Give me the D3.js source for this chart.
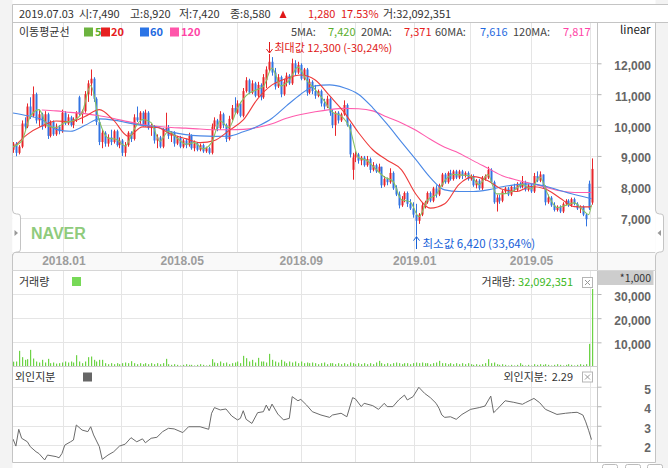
<!DOCTYPE html>
<html><head><meta charset="utf-8">
<script src="https://cdn.jsdelivr.net/npm/d3@7"></script>
<style>
html,body{margin:0;padding:0;background:#fff;}
svg{display:block;}
text{font-family:"Noto Sans CJK KR","Noto Sans",sans-serif;}
.ax{font-family:"Liberation Sans",Arial,sans-serif !important;font-weight:bold;font-size:12px !important;fill:#666 !important;}
.dx{font-family:"Liberation Sans",Arial,sans-serif !important;font-weight:bold;font-size:12px !important;fill:#9d9d9d !important;}
</style></head><body>
<svg id="c" width="668" height="468"></svg>
<script>
// ---------- DATA ----------
const lastDate = "2019.07.03";
// [open, high, low, close] — one candle per ~2 trading days
const candles = [
[9200,9450,9100,9400],[9400,9450,8990,9100],[9100,9350,9050,9300],[9300,10150,9250,10050],[10050,10250,9850,9950],
[9950,10700,9900,10600],[10600,10900,10200,10300],[10300,11250,10250,11000],[11000,11050,10050,10150],[10150,10500,9950,10350],
[10350,10400,9850,9950],[9950,10450,9900,10350],[10350,10400,9550,9650],[9650,10150,9600,10100],[10100,10150,9650,9700],
[9700,10050,9650,9950],[9950,10000,9700,9800],[9800,10500,9750,10400],[10400,10450,10000,10050],[10050,10350,10000,10250],
[10250,10300,9950,10000],[10000,10250,9900,10200],[10200,10450,10100,10400],[10900,10950,10300,10350],[10350,10500,10050,10450],
[10450,11100,10400,11000],[11000,11450,10750,11350],[11350,11800,10950,11500],[11500,11550,10750,10850],[10850,10900,10000,10100],
[10100,10200,9350,9450],[9450,9850,9250,9750],[9750,9800,9300,9400],[9400,9700,9300,9600],[9600,9850,9350,9450],
[9450,9850,9400,9800],[9800,9850,9300,9350],[9350,9600,9250,9500],[9500,9550,9000,9100],[9100,9450,8980,9350],
[9350,9800,9300,9750],[9750,9800,9450,9550],[9550,10350,9500,10250],[10250,10600,10100,10150],[10150,10450,10000,10400],
[10400,10450,9950,10000],[10000,10500,9950,10400],[10400,10450,9850,9900],[9900,10050,9650,9950],[9950,10000,9400,9500],
[9500,9700,9250,9600],[9600,9650,9250,9300],[9300,9900,9250,9850],[9850,10400,9800,9900],[9900,10000,9550,9650],
[9650,9800,9450,9750],[9750,9800,9300,9400],[9400,9650,9350,9600],[9600,9650,9250,9300],[9300,9550,9250,9500],
[9500,9550,9250,9350],[9350,9750,9300,9650],[9650,9700,9200,9250],[9250,9500,9150,9400],[9400,9450,9150,9200],
[9200,9400,9150,9350],[9350,9400,9100,9150],[9150,9300,9100,9250],[9250,9300,9050,9100],[9100,10050,9050,9950],
[9950,10250,9850,10150],[10150,10200,9800,9900],[9900,10450,9850,10350],[10350,10400,9900,10000],[10000,10050,9450,9550],
[9550,10300,9500,10200],[10200,10650,10150,10550],[10550,10900,10350,10400],[10400,10800,10350,10700],[10700,10750,10250,10300],
[10300,11200,10250,11100],[11100,11550,11050,11450],[11450,11500,11000,11050],[11050,11450,11000,11350],[11350,11400,10900,10950],
[10950,11400,10900,11300],[11300,11350,10800,10900],[10900,11650,10850,11550],[11450,11900,11200,11800],[11800,12300,11750,12050],
[12050,12200,11600,11700],[11700,11850,11150,11250],[11250,11650,11200,11550],[11550,11600,10900,11000],[11000,11500,10950,11400],
[11400,11700,11250,11600],[11600,11650,11300,11350],[11350,12150,11300,12000],[12000,12100,11600,11700],[11700,12050,11650,11950],
[11950,12000,11450,11500],[11500,11850,11450,11800],[11800,11850,10950,11050],[11050,11500,11000,11400],[11400,11450,11000,11100],
[11100,11300,10850,10950],[10950,11150,10900,11100],[11100,11150,10600,10700],[10700,10850,10500,10600],[10600,10950,10550,10850],
[10850,10900,10300,10400],[10400,10500,9900,10000],[10000,10450,9650,10400],[10400,10450,10050,10150],[10150,10400,10100,10350],
[10350,10800,10300,10650],[10650,10700,9950,10000],[10000,10050,8950,9050],[8550,9100,8230,8950],[8950,9150,8800,9050],
[9050,9100,8750,8850],[8850,9000,8700,8950],[8950,9000,8650,8700],[8700,9000,8650,8900],[8900,8950,8450,8550],
[8550,8800,8500,8700],[8700,8750,8450,8500],[8500,8750,8450,8650],[8650,8650,7960,8050],[8050,8350,8000,8250],
[8250,8300,8050,8150],[8150,8600,8100,8450],[8450,8500,7900,7950],[7950,8050,7700,7750],[7750,7850,7300,7400],
[7400,7700,7350,7600],[7600,7850,7500,7800],[7800,7850,7350,7450],[7450,7600,7250,7300],[7300,7500,7000,7100],
[7100,7450,6420,6900],[6900,7150,6800,7100],[7100,7500,7050,7400],[7400,7550,7300,7500],[7500,7850,7450,7800],
[7800,7850,7500,7550],[7550,8000,7500,7950],[7950,8050,7650,7750],[7750,8100,7700,8050],[8050,8450,8000,8400],
[8400,8450,8100,8150],[8150,8500,8100,8450],[8450,8550,8200,8250],[8250,8550,8200,8500],[8500,8550,8250,8300],
[8300,8550,8250,8500],[8500,8550,8250,8350],[8350,8500,8300,8450],[8450,8500,8200,8250],[8250,8400,8200,8350],
[8350,8400,8000,8050],[8050,8250,7950,8200],[8200,8250,7900,7950],[7950,8350,7900,8300],[8250,8400,8200,8350],
[8300,8650,8250,8550],[8550,8600,8100,8150],[8150,8200,7450,7500],[7500,7750,7200,7650],[7650,7750,7450,7550],
[7550,7900,7500,7850],[7850,8000,7800,7950],[7950,8000,7700,7750],[7750,8050,7700,8000],[8000,8100,7850,7900],
[7900,8150,7850,8100],[8100,8150,7950,8000],[8000,8350,7950,8150],[8150,8200,7850,7900],[7900,8100,7850,8050],
[8050,8100,7800,7850],[7850,8450,7800,8350],[8350,8500,8150,8200],[8200,8500,8150,8400],[8400,8400,7950,8000],
[8000,8050,7400,7500],[7500,7750,7450,7650],[7650,7700,7350,7400],[7400,7500,7200,7250],[7250,7400,7200,7350],
[7350,7400,7150,7200],[7200,7500,7150,7450],[7450,7600,7400,7550],[7550,7600,7350,7400],[7400,7650,7350,7600],
[7600,7650,7400,7450],[7450,7500,7250,7300],[7300,7400,7150,7350],[7350,7400,7050,7100],[7100,7150,6720,6950],
[8100,8200,7250,7300],[7490,8920,7420,8580]
];
// volume per candle, in thousands of shares (*1,000)
const volumes = [
2000,2070,6480,3860,2760,3030,6890,3300,2070,1650,2760,1650,3170,1380,1650,1200,1380,1650,2070,1650,
2070,1650,4680,2070,1380,2070,3860,4130,2760,2070,2760,2760,1380,960,1380,960,1380,960,1380,1650,
1380,2200,1380,960,1380,960,1380,960,1380,960,1380,960,1380,3170,960,690,960,690,410,690,
960,690,690,410,690,960,690,410,690,3030,1650,1380,2070,1380,1650,960,1380,1650,2070,1380,
4410,3440,2070,2760,1650,3580,2070,2070,1650,5240,2760,2070,1650,2760,2070,1380,2070,1650,2070,1380,
2070,1380,1650,1380,1650,1380,960,1380,1650,960,1380,1380,960,1380,960,1380,960,1650,1380,960,
1380,960,1380,960,1380,960,1650,2340,1380,960,1380,960,1380,1650,1380,960,1380,1380,960,1380,
1650,1380,1650,1380,1380,960,1380,1650,2340,1380,1380,960,1380,960,1380,960,1380,960,1380,960,
690,960,690,960,1380,3030,1380,1650,960,690,960,690,410,690,410,690,1380,690,410,690,
410,960,690,960,690,960,690,410,690,960,690,410,690,960,690,410,690,960,690,960,
9370,32092
];
const lastVolumeShares = 32092351;
// moving averages: [candle index, value]
const ma5 = [[0,9300],[3,9480],[6,10280],[9,10500],[12,9980],[15,9920],[18,10080],[21,10150],[24,10400],[27,11280],
[30,10130],[33,9580],[36,9530],[39,9320],[42,9850],[45,10180],[48,10080],[51,9470],[54,9800],[57,9580],
[60,9380],[63,9430],[66,9230],[69,9430],[72,10130],[75,9920],[78,10550],[81,10950],[84,11120],[87,11250],
[90,11850],[93,11270],[96,11450],[99,11880],[102,11450],[105,11150],[108,10800],[111,10420],[114,10300],[117,9900],
[120,8950],[123,8850],[126,8580],[129,8320],[132,8180],[135,7580],[138,7520],[141,7030],[144,7570],[147,7750],
[150,8200],[153,8400],[156,8380],[159,8350],[162,8070],[165,8400],[168,7770],[171,7780],[174,7880],[177,8080],
[180,7930],[183,8320],[186,7720],[189,7330],[192,7400],[195,7480],[198,7250],[200,7100],[201,7420]];
const maIdx = [0,5,10,15,20,25,30,35,40,45,50,55,60,65,70,75,80,85,90,95,100,105,110,115,120,125,130,135,140,145,150,155,160,165,170,175,180,185,190,195,200,201];
const ma20 = [9260,9700,9970,10130,10110,10280,10500,10150,9640,9940,9920,9700,9560,9430,9500,9820,10165,10850,11300,11510,11620,11460,10950,10420,9760,9200,8860,8550,7760,7310,7450,8080,8330,8200,7920,7850,8010,7930,7640,7360,7350,7371];
const ma60 = [10390,10300,10180,9860,9800,9990,10200,10160,10070,9990,9940,9780,9690,9650,9635,9640,9780,9960,10220,10620,11000,11270,11300,11210,11000,10560,10030,9450,8880,8300,7900,7850,7850,7900,8000,8070,8095,8020,7880,7750,7640,7616];
const ma120 = [null,null,10490,10460,10410,10370,10300,10210,10110,10020,9960,9920,9900,9870,9850,9850,9860,9920,10040,10220,10340,10430,10500,10540,10530,10460,10260,10070,9830,9540,9280,9090,8840,8600,8360,8220,8110,7990,7870,7817,7817,7817];
const maNames = ["5","20","60","120"];
// foreign ownership (%): [candle index, value]
const foreign = [[0,2.32],[1,1.96],[2,2.82],[3,2.36],[5,2.18],[6,1.93],[8,1.67],[9,1.58],[11,1.25],[12,1.5],[15,1.42],[16,1.36],[17,1.58],[18,2.01],[20,2.18],[21,2.27],[22,3.04],[24,2.78],[26,2.70],[27,2.95],[28,2.53],[30,1.93],[31,1.28],[33,1.5],[35,1.67],[37,1.96],[39,2.06],[41,2.39],[43,2.18],[45,2.33],[46,2.13],[48,2.36],[50,2.41],[52,2.70],[54,2.87],[56,2.84],[59,2.65],[61,2.95],[65,2.95],[68,2.82],[69,3.64],[70,3.93],[72,3.81],[74,3.86],[76,3.50],[78,3.30],[79,3.38],[80,3.77],[81,3.33],[83,3.12],[85,3.67],[87,3.72],[88,4.06],[89,3.77],[90,4.11],[92,3.6],[94,3.30],[96,3.38],[97,4.49],[99,4.28],[100,4.35],[102,4.06],[104,3.72],[107,3.55],[110,3.43],[111,3.55],[114,3.64],[116,3.46],[118,4.44],[119,4.37],[121,3.98],[122,4.15],[125,4.03],[127,3.84],[129,4.15],[130,3.98],[132,3.98],[134,4.32],[136,4.57],[137,4.32],[139,4.49],[141,4.97],[143,4.66],[145,4.44],[147,4.15],[148,3.90],[149,3.55],[150,3.43],[152,3.46],[154,3.33],[156,3.58],[159,3.84],[162,3.93],[164,4.01],[166,4.52],[167,3.67],[168,3.81],[171,4.28],[174,4.2],[177,4.1],[178,4.18],[181,4.4],[183,4.18],[185,3.84],[189,3.58],[192,3.64],[194,3.67],[196,3.69],[198,3.55],[199,3.2],[200,2.77],[201,2.29]];
const priceTicks = [7000,8000,9000,10000,11000,12000];
const volTicks = [10000,20000,30000];
const foreignTicks = [2,3,4,5];
const monthLabels = ["2018.01","2018.03","2018.05","2018.07","2018.09","2018.11","2019.01","2019.03","2019.05","2019.07"];
const monthIndex = [17.5,37.4,58.6,77.9,100,118.8,139.4,158.8,180,200.5];
const monthShown = [true,false,true,false,true,false,true,false,true,false];

// ---------- DRAW ----------
const svg = d3.select('#c');
const fmt = d3.format(',');
const PL = 12.5, PR = 597.5, RE = 655.5;
const C = {up:'#e8262b', dn:'#3274e2', m5:'#86c263', m20:'#ee3b3b', m60:'#4a88e6', m120:'#ff5cad',
  g5:'#5aae2c', g20:'#e62020', g60:'#1f6ae0', g120:'#ff44a6', grid:'#e5e5e5', bd:'#c4c4c4', vol:'#6dd346'};
const x = d3.scaleLinear().domain([0, candles.length-1]).range([13, 591.5]);
const yP = d3.scaleLinear().domain([7000,12000]).range([217.7,63.3]);
const yV = d3.scaleLinear().domain([0,30000]).range([366.5,294]);
const yF = d3.scaleLinear().domain([2,5]).range([445.3,386.7]);

// side strips
svg.append('rect').attr('x',0).attr('y',0).attr('width',PL).attr('height',468).attr('fill','#f3f3f3');
svg.append('rect').attr('x',RE).attr('y',0).attr('width',668-RE).attr('height',468).attr('fill','#f3f3f3');
svg.append('rect').attr('x',PL).attr('y',4.5).attr('width',668-PL).attr('height',18).attr('fill','#fff');

// date band
svg.append('rect').attr('x',PL).attr('y',252).attr('width',RE-PL).attr('height',18).attr('fill','#f9f9f9');
// *1,000 box
svg.append('rect').attr('x',PR).attr('y',270.5).attr('width',RE-PR-2).attr('height',14.5).attr('fill','#cdcdcd');

// grids
const panels = [[23,252],[270.5,366.5],[367,462]];
panels.forEach(([a,b])=>{
  svg.append('g').selectAll('line').data(monthIndex).join('line')
    .attr('x1',d=>Math.round(x(d))+0.5).attr('x2',d=>Math.round(x(d))+0.5)
    .attr('y1',a).attr('y2',b).attr('stroke',C.grid);
});
const hgrid=(ticks,sc)=>svg.append('g').selectAll('line').data(ticks).join('line')
  .attr('x1',PL).attr('x2',PR).attr('y1',d=>Math.round(sc(d))+0.5).attr('y2',d=>Math.round(sc(d))+0.5).attr('stroke',C.grid);
hgrid(priceTicks,yP); hgrid(volTicks,yV); hgrid(foreignTicks,yF);

// clip for price
svg.append('clipPath').attr('id','cp').append('rect').attr('x',PL).attr('y',23).attr('width',PR-PL).attr('height',229);
const gC = svg.append('g').attr('clip-path','url(#cp)');
const cg = gC.selectAll('g.c').data(candles).join('g');
cg.append('line')
  .attr('x1',(d,i)=>Math.round(x(i))+0.5).attr('x2',(d,i)=>Math.round(x(i))+0.5)
  .attr('y1',d=>yP(d[1])).attr('y2',d=>yP(d[2]))
  .attr('stroke',d=>d[3]>=d[0]?C.up:C.dn).attr('stroke-width',1);
cg.append('rect')
  .attr('x',(d,i)=>Math.round(x(i))-0.5).attr('width',2)
  .attr('y',d=>yP(Math.max(d[0],d[3])))
  .attr('height',d=>Math.max(1,Math.abs(yP(d[0])-yP(d[3]))))
  .attr('fill',d=>d[3]>=d[0]?C.up:C.dn);

const line = d3.line().defined(d=>d[1]!=null).x(d=>x(d[0])).y(d=>yP(d[1])).curve(d3.curveMonotoneX);
const pairs = arr => maIdx.map((i,k)=>[i,arr[k]]);
gC.append('path').attr('d',line(pairs(ma120))).attr('fill','none').attr('stroke',C.m120).attr('stroke-width',1.1);
gC.append('path').attr('d',line(pairs(ma60))).attr('fill','none').attr('stroke',C.m60).attr('stroke-width',1.1);
gC.append('path').attr('d',line(pairs(ma20))).attr('fill','none').attr('stroke',C.m20).attr('stroke-width',1.1);
gC.append('path').attr('d',line(ma5)).attr('fill','none').attr('stroke',C.m5).attr('stroke-width',1.1);

// volume bars
svg.append('g').selectAll('rect').data(volumes).join('rect')
  .attr('x',(d,i)=>Math.round(x(i))).attr('width',1.2)
  .attr('y',d=>yV(d)).attr('height',d=>yV(0)-yV(d)).attr('fill',C.vol);

// foreign line
svg.append('path').attr('d',d3.line().x(d=>x(d[0])).y(d=>yF(d[1]))(foreign))
  .attr('fill','none').attr('stroke','#6b6b6b').attr('stroke-width',1);

// frame lines
const L=(x1,y1,x2,y2,c)=>svg.append('line').attr('x1',x1).attr('y1',y1).attr('x2',x2).attr('y2',y2).attr('stroke',c||C.bd);
L(PL,4.5,668,4.5); L(PL,22.5,668,22.5);
L(PL,4.5,PL,210); L(PL,254,PL,462.5);
L(PR,22.5,PR,462.5); L(RE,22.5,RE,210); L(RE,256,RE,462.5);
L(PL,252.5,RE,252.5,'#cfcfcf'); L(PL,270.5,RE,270.5,'#d6d6d6');
L(PL,366.5,PR,366.5,'#cfcfcf'); L(PL,462.5,RE,462.5);
// tabs
svg.append('path').attr('d',`M${PL},210 q0,4 4,4 h1.5 q2.5,0 2.5,3 v32 q0,3 -2.5,3 h-1.5 q-4,0 -4,4`).attr('fill','#fff').attr('stroke',C.bd);
svg.append('path').attr('d','M14.5,230 l3.5,3 l-3.5,3 z').attr('fill','#999');
svg.append('path').attr('d',`M${RE},210 q0,4 4,4 h1.5 q2.5,0 2.5,3 v32 q0,3 -2.5,3 h-1.5 q-4,0 -4,4`).attr('fill','#fff').attr('stroke',C.bd);
svg.append('path').attr('d','M661,230 l-3.5,3 l3.5,3 z').attr('fill','#999');
// bottom buttons
[602,625,647].forEach(bx=>svg.append('rect').attr('x',bx+0.5).attr('y',464.5).attr('width',15).attr('height',10).attr('rx',2).attr('fill','#fff').attr('stroke','#bbb'));

// axes
function rightAxis(sc,ticks,f,dy){
  const g = svg.append('g').attr('transform',`translate(${PR},0)`)
    .call(d3.axisRight(sc).tickValues(ticks).tickSize(4).tickFormat(f));
  g.select('.domain').remove();
  g.selectAll('line').attr('stroke','#b5b5b5');
  g.selectAll('text').attr('class','ax').attr('x',53.5).attr('text-anchor','end').attr('dy',dy);
}
rightAxis(yP,priceTicks,fmt,'0.5em');
rightAxis(yV,volTicks,fmt,'0.5em');
rightAxis(yF,foreignTicks,d3.format('d'),'0.55em');

const gD = svg.append('g').attr('transform','translate(0,252)')
  .call(d3.axisBottom(x).tickValues(monthIndex.filter((d,i)=>monthShown[i])).tickSize(0)
    .tickFormat(d=>monthLabels[monthIndex.indexOf(d)]));
gD.select('.domain').remove();
gD.selectAll('text').attr('class','dx').attr('y',9).attr('dy','0.36em');

// annotations max/min
let iMax=0,iMin=0;
candles.forEach((d,i)=>{ if(d[1]>candles[iMax][1]) iMax=i; if(d[2]<candles[iMin][2]) iMin=i; });
const last = candles[candles.length-1], prev = candles[candles.length-2];
const hi = candles[iMax][1], lo = candles[iMin][2];
const pc = v => (v>=0?'':'-') + Math.abs(v).toFixed(2).replace('.',',') + '%';
const xm = Math.round(x(iMax))+0.5;
svg.append('path').attr('d',`M${xm},42 V${yP(hi)-1} M${xm-3},${yP(hi)-5} L${xm},${yP(hi)-1} L${xm+3},${yP(hi)-5}`).attr('fill','none').attr('stroke','#e01818');
svg.append('text').attr('x',xm+5).attr('y',48).attr('dy','0.35em').attr('font-size',11).attr('fill','#e01818')
  .text(`최대값 ${fmt(hi)} (${pc((last[3]-hi)/hi*100)})`);
const xn = Math.round(x(iMin))+0.5;
svg.append('path').attr('d',`M${xn},249 V${yP(lo)+1} M${xn-3},${yP(lo)+5} L${xn},${yP(lo)+1} L${xn+3},${yP(lo)+5}`).attr('fill','none').attr('stroke','#1560d8');
svg.append('text').attr('x',xn+6).attr('y',244).attr('dy','0.35em').attr('font-size',11.5).attr('fill','#1560d8')
  .text(`최소값 ${fmt(lo)} (${pc((last[3]-lo)/lo*100)})`);

// header row 1
const T=(tx,ty,s,o={})=>{const t=svg.append('text').attr('x',tx).attr('y',ty).attr('dy','0.35em')
  .attr('font-size',o.fs||11).attr('fill',o.c||'#333').attr('text-anchor',o.a||'start').text(s);
  if(o.b) t.attr('font-weight','bold'); if(o.f) t.style('font-family',o.f); return t;};
const chg = last[3]-prev[3];
T(19,14,lastDate);
T(79,14,`시:${fmt(last[0])}`);
T(130,14,`고:${fmt(last[1])}`);
T(179,14,`저:${fmt(last[2])}`);
T(230,14,`종:${fmt(last[3])}`);
svg.append('path').attr('d','M279.5,18 L283,10.5 L286.5,18 Z').attr('fill','#e01818');
T(308,14,fmt(chg),{c:'#e01818'});
T(341,14,(chg/prev[3]*100).toFixed(2)+'%',{c:'#e01818'});
T(383,14,`거:${fmt(lastVolumeShares)}`);

// row 2 legend
const RY = 32;
T(19,RY,'이동평균선');
const legCol=[C.g5,C.g20,C.g60,C.g120], legSq=['#6cb33f','#e62020','#2b74e6','#ff55aa'];
const sqX=[84,101,140,170], txX=[95,111,150,181];
maNames.forEach((n,k)=>{
  svg.append('rect').attr('x',sqX[k]).attr('y',RY-4.5).attr('width',9).attr('height',9).attr('fill',legSq[k]);
  T(txX[k],RY,n,{c:legCol[k],b:true,fs:11});
});
const maLastVals=[ma5[ma5.length-1][1], ma20[ma20.length-1], ma60[ma60.length-1], ma120[ma120.length-1]];
const labX=[291,361,435,513], valX=[355.5,431.5,507.5,590.5];
maNames.forEach((n,k)=>{
  T(labX[k],RY,`${n}MA:`,{c:'#444'});
  T(valX[k],RY,fmt(maLastVals[k]),{c:legCol[k],a:'end'});
});
T(620,30,'linear',{c:'#222',fs:11.5});

// NAVER watermark
T(31,233,'NAVER',{c:'#8fcb7c',b:true,fs:16,f:'"Liberation Sans",Arial,sans-serif'});

// volume legend
T(19,282,'거래량');
svg.append('rect').attr('x',72).attr('y',277).attr('width',9).attr('height',9).attr('fill','#77d957');
T(515,282,'거래량:',{a:'end'});
T(573,282,fmt(lastVolumeShares),{c:'#3cb81c',a:'end'});
T(651,278,'*1,000',{fs:10.5,a:'end',c:'#333'});
// foreign legend
T(15,377,'외인지분');
svg.append('rect').attr('x',83).attr('y',372.5).attr('width',9).attr('height',9).attr('fill','#666');
T(547,377,'외인지분:',{a:'end'});
T(573,377,foreign[foreign.length-1][1].toFixed(2),{a:'end'});
// close boxes
[[582,277],[582,371.5]].forEach(([bx,by])=>{
  svg.append('rect').attr('x',bx+0.5).attr('y',by+0.5).attr('width',10).attr('height',10).attr('fill','#fff').attr('stroke','#b5b5b5');
  svg.append('path').attr('d',`M${bx+3},${by+3} l5,5 M${bx+8},${by+3} l-5,5`).attr('stroke','#999');
});
</script></body></html>
